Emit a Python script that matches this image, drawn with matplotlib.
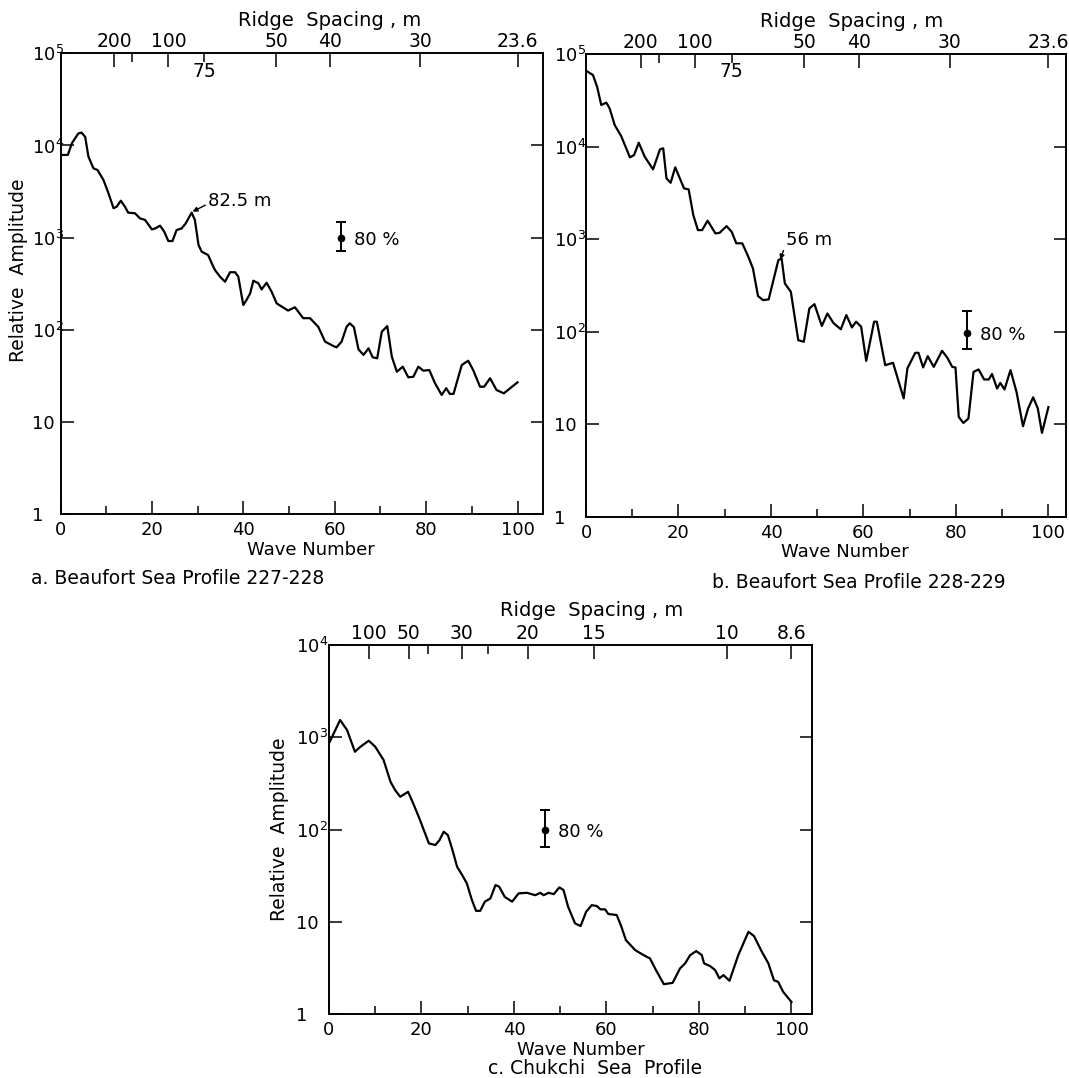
import matplotlib
matplotlib.use("Agg")
import matplotlib.pyplot as plt
from matplotlib.ticker import FixedLocator, NullLocator

plt.rcParams['font.family'] = 'DejaVu Sans'
plt.rcParams['mathtext.fontset'] = 'dejavusans'

W, H = 1069, 1078

#~~~~~~~~~~~~~~~~~~~~~~~~~~~~~~~~~~~~~~~
# a. Beaufort Sea profile 227-228
#~~~~~~~~~~~~~~~~~~~~~~~~~~~~~~~~~~~~~~~
a_wave = [0, 1.6, 2.5, 3.9, 4.6, 5.4, 6.1, 7.2, 8.1, 9.4,
          10.5, 11.6, 12.3, 13.2, 14.1, 14.8, 16.3, 17.4, 18.5, 20.0,
          20.7, 21.8, 22.7, 23.6, 24.5, 25.4, 26.5, 27.4, 28.7, 29.4,
          30.2, 30.9, 32.3, 33.1, 33.8, 34.9, 36.0, 37.1, 38.2, 38.9,
          40.0, 40.7, 41.5, 42.2, 43.3, 44.0, 45.1, 46.2, 47.3, 48.4,
          49.8, 51.3, 53.1, 54.6, 56.4, 57.9, 59.7, 60.4, 61.5, 62.6,
          63.3, 64.2, 65.2, 66.3, 67.4, 68.3, 69.3, 70.3, 71.5, 72.5,
          73.6, 74.9, 76.1, 77.2, 78.3, 79.4, 80.7, 81.9, 83.4, 84.4,
          85.2, 86.0, 87.8, 89.2, 90.3, 91.8, 92.7, 94.0, 95.4, 97.0,
          100.0]
a_amp = [7900, 7900, 10600, 13500, 13800, 12400, 7600, 5660, 5420, 4230,
         3030, 2090, 2170, 2520, 2170, 1870, 1840, 1620, 1560, 1230,
         1260, 1350, 1160, 920, 920, 1210, 1260, 1430, 1870, 1560,
         834, 705, 649, 527, 446, 378, 333, 422, 422, 378,
         186, 211, 249, 342, 320, 275, 325, 259, 194, 179,
         162, 176, 134, 134, 108, 74.5, 66.9, 64.7, 74.5, 108,
         118, 107, 61.7, 53.5, 63.1, 50.5, 49.2, 95.5, 110, 51.2,
         35.2, 39.9, 30.6, 31, 39.9, 36.1, 36.7, 26.7, 19.7, 23.3,
         20.2, 20.2, 41.6, 46.3, 36.7, 24.2, 24.2, 29.9, 22.3, 20.5,
         27]
a_bar = [61.3, 1000, 722, 1490]      # wave number, mid, low, high
a_peak = [28.9, 1915]

#~~~~~~~~~~~~~~~~~~~~~~~~~~~~~~~~~~~~~~~
# b. Beaufort Sea profile 228-229
#~~~~~~~~~~~~~~~~~~~~~~~~~~~~~~~~~~~~~~~
b_wave = [0, 1.5, 2.4, 3.3, 4.4, 5.1, 6.2, 7.6, 9.5, 10.4,
          11.4, 12.7, 14.5, 16.0, 16.7, 17.4, 18.3, 19.3, 21.2, 22.2,
          23.2, 24.2, 25.1, 26.3, 28.0, 28.9, 30.4, 31.5, 32.5, 33.8,
          35.1, 36.1, 37.2, 38.3, 39.5, 41.6, 42.3, 43.0, 44.3, 45.9,
          47.1, 48.3, 49.4, 51.0, 52.2, 53.5, 55.1, 56.3, 57.5, 58.4,
          59.5, 60.6, 62.3, 62.9, 64.7, 66.4, 68.7, 69.5, 71.2, 71.9,
          72.9, 73.9, 75.2, 77.0, 78.1, 79.2, 79.9, 80.6, 81.6, 82.7,
          83.8, 84.9, 86.1, 87.1, 87.8, 88.9, 89.6, 90.5, 91.8, 93.1,
          94.5, 95.6, 96.7, 97.7, 98.6, 100.0]
b_amp = [65900, 59300, 44300, 28100, 29800, 25900, 17100, 13000, 7640, 8090,
         11000, 7760, 5670, 9330, 9570, 4530, 4060, 5960, 3530, 3440,
         1820, 1250, 1250, 1580, 1150, 1170, 1380, 1200, 900, 900,
         644, 482, 242, 219, 223, 593, 618, 332, 269, 80.9,
         77.6, 178, 198, 115, 157, 124, 106, 151, 111, 128,
         113, 48.3, 128, 128, 43.4, 46, 19, 40, 59, 59,
         41, 54.3, 41.6, 62, 52.6, 41.6, 41, 12, 10.3, 11.5,
         36.7, 39, 30.4, 30.4, 34.8, 24.3, 27.9, 23.7, 38.4, 22.3,
         9.5, 14.8, 19.5, 14.8, 8.05, 15.3]
b_bar = [82.4, 97, 64.3, 168]
b_peak = [42.0, 600]

#~~~~~~~~~~~~~~~~~~~~~~~~~~~~~~~~~~~~~~~
# c. Chukchi Sea profile
#~~~~~~~~~~~~~~~~~~~~~~~~~~~~~~~~~~~~~~~
c_wave = [0, 2.4, 3.9, 5.6, 6.8, 8.6, 10.0, 11.8, 13.3, 14.3,
          15.4, 17.1, 17.9, 19.4, 21.6, 23.0, 23.9, 24.8, 25.7, 26.7,
          27.7, 28.8, 29.8, 30.9, 31.8, 32.7, 33.7, 34.9, 36.0, 36.8,
          38.0, 39.6, 41.0, 42.8, 44.6, 45.7, 46.4, 47.5, 48.6, 49.8,
          50.7, 51.7, 53.2, 54.4, 55.6, 56.8, 57.9, 58.7, 59.7, 60.4,
          62.2, 63.1, 64.2, 66.2, 68.0, 69.4, 70.7, 72.4, 74.3, 75.9,
          77.0, 78.1, 79.4, 80.6, 81.1, 82.4, 83.5, 84.4, 85.3, 85.8,
          86.6, 88.5, 90.7, 91.9, 93.6, 95.0, 96.2, 97.1, 98.2, 100.0]
c_amp = [860, 1540, 1200, 698, 791, 919, 791, 568, 330, 268,
         227, 257, 209, 138, 71, 68.1, 77.1, 94.9, 87.4, 60.1,
         39.6, 32.2, 26.2, 17.3, 13.2, 13.2, 16.6, 18, 25.1, 24.1,
         18.7, 16.6, 20.4, 20.7, 19.5, 20.7, 19.5, 20.7, 20, 23.7,
         22.2, 14.6, 9.66, 9.03, 12.9, 15.2, 14.9, 13.7, 13.7, 12.2,
         11.9, 9.25, 6.36, 4.96, 4.38, 4.03, 3.01, 2.12, 2.19, 3.14,
         3.56, 4.38, 4.84, 4.38, 3.56, 3.33, 3.01, 2.45, 2.66, 2.51,
         2.31, 4.38, 7.83, 7.03, 4.75, 3.56, 2.34, 2.25, 1.75, 1.36]
c_bar = [46.6, 99, 65.4, 163]

# ridge spacing (m) marked along the top; profile length = spacing * wave number
ab_length = 2360
ab_spacing = ['200', '100', '50', '40', '30', '23.6']
ab_spacing_minor = [150, 75]
c_length = 860
c_spacing = ['100', '50', '30', '20', '15', '10', '8.6']
c_spacing_minor = [40, 25]


def rect(left, top, right, bottom):
    return [left / W, 1 - bottom / H, (right - left) / W, (bottom - top) / H]


def px(x, y):
    return x / W, 1 - y / H


def panel(box, wave, amp, xmax, ytop, length, spacing, spacing_minor, bar, ypad):
    ax = fig.add_axes(box)
    ax.plot(wave, amp, color='k', lw=1.6)
    ax.errorbar([bar[0]], [bar[1]], yerr=[[bar[1] - bar[2]], [bar[3] - bar[1]]],
                fmt='o', color='k', ms=4.5, capsize=3.5, elinewidth=1.4, capthick=1.4)
    ax.text(bar[0] + 2.9, bar[1] * 0.95, '80 %', fontsize=13, ha='left', va='center')
    ax.set_yscale('log')
    ax.set_xlim(0, xmax)
    ax.set_ylim(1, ytop)

    n = len(str(int(ytop))) - 1
    yt = [10 ** i for i in range(n + 1)]
    ylab = ['1', '10'] + ['$10^{%d}$' % i for i in range(2, n + 1)]
    ax.yaxis.set_major_locator(FixedLocator(yt))
    ax.set_yticklabels(ylab)
    ax.yaxis.set_minor_locator(NullLocator())
    ax.xaxis.set_major_locator(FixedLocator([0, 20, 40, 60, 80, 100]))
    ax.xaxis.set_minor_locator(FixedLocator([10, 30, 50, 70, 90]))

    ax.tick_params(which='both', direction='in', top=False, right=True, width=1.1, labelsize=13)
    ax.tick_params(axis='x', which='major', length=9.6, pad=5)
    ax.tick_params(axis='x', which='minor', length=6)
    ax.tick_params(axis='y', which='major', length=9, pad=ypad)
    for t in ax.get_yticklabels():
        t.set_ha('left')

    ax2 = ax.twiny()
    ax2.set_xlim(0, xmax)
    ax2.set_xticks([length / float(s) for s in spacing])
    ax2.set_xticklabels(spacing)
    ax2.set_xticks([length / s for s in spacing_minor], minor=True)
    ax2.tick_params(axis='x', which='major', direction='in', length=10, width=1.1,
                    pad=1.5, labelsize=13.5)
    ax2.tick_params(axis='x', which='minor', direction='in', length=6.5, width=1.1)

    for a in (ax, ax2):
        for sp in a.spines.values():
            sp.set_linewidth(1.2)
    return ax


fig = plt.figure(figsize=(W / 100, H / 100), dpi=100)

ax_a = panel(rect(60.5, 53.3, 543.1, 514.3), a_wave, a_amp, 105.6, 1e5,
             ab_length, ab_spacing, ab_spacing_minor, a_bar, 20.5)
ax_b = panel(rect(586, 54, 1066, 516.7), b_wave, b_amp, 103.8, 1e5,
             ab_length, ab_spacing, ab_spacing_minor, b_bar, 23)
ax_c = panel(rect(329, 645, 812.3, 1014.3), c_wave, c_amp, 104.5, 1e4,
             c_length, c_spacing, c_spacing_minor, c_bar, 24)

# 75 m written under the top axis
for ax in (ax_a, ax_b):
    ax.annotate('75', xy=(ab_length / 75, 1), xycoords=('data', 'axes fraction'),
                xytext=(0, -6), textcoords='offset points', ha='center', va='top',
                fontsize=13.5)

arrow = dict(arrowstyle='-|>', color='k', lw=1, mutation_scale=7,
             shrinkA=0, shrinkB=0, relpos=(0, 0.35))
ax_a.annotate('82.5 m', xy=tuple(a_peak), xytext=(32.3, 2500), ha='left', va='center',
              fontsize=13, arrowprops=arrow)
ax_b.annotate('56 m', xy=tuple(b_peak), xytext=(43.3, 975), ha='left', va='center',
              fontsize=13, arrowprops=arrow)

# axis titles and captions
for x, y in [(330, 26.5), (852, 27.0), (592, 616.5)]:
    fig.text(*px(x, y), 'Ridge  Spacing , m', fontsize=14, ha='center', va='baseline')
for x, y in [(311, 550), (845, 552), (581, 1050)]:
    fig.text(*px(x, y), 'Wave Number', fontsize=13, ha='center', va='center')
for x, y in [(19, 270), (279.5, 829)]:
    fig.text(*px(x, y), 'Relative  Amplitude', fontsize=13.5, rotation=90,
             ha='center', va='center')

fig.text(*px(178, 578), 'a. Beaufort Sea Profile 227-228', fontsize=13.5, ha='center', va='center')
fig.text(*px(859, 582), 'b. Beaufort Sea Profile 228-229', fontsize=13.5, ha='center', va='center')
fig.text(*px(595.5, 1068.5), 'c. Chukchi  Sea  Profile', fontsize=13.5, ha='center', va='center')

fig.savefig('out.png', dpi=100)
